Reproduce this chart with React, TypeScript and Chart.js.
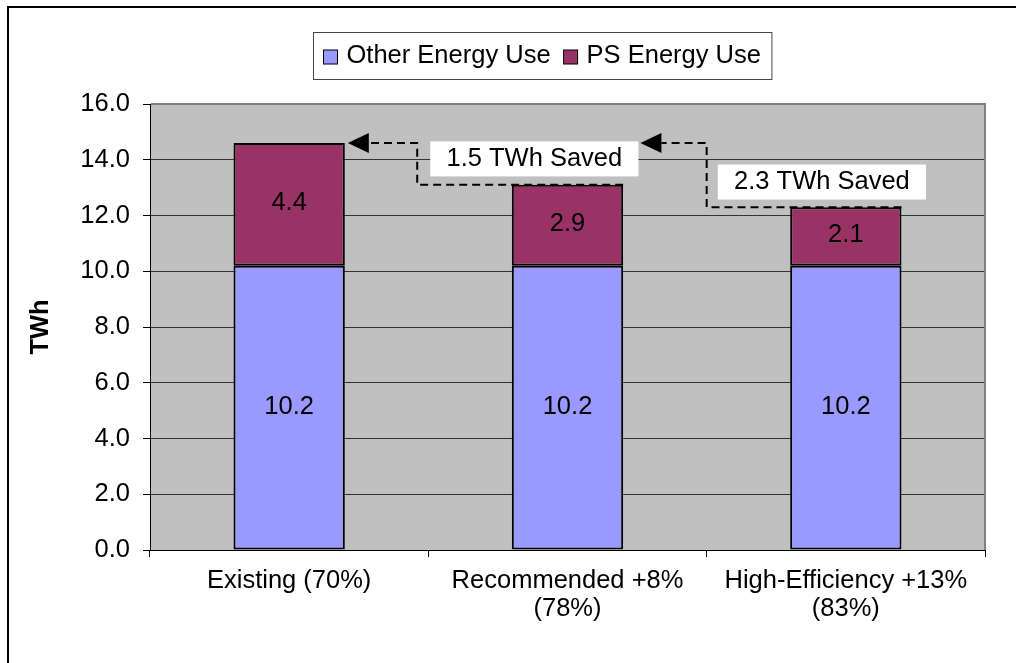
import { useEffect, useRef } from 'react';
import { Chart, registerables } from 'chart.js';

Chart.register(...registerables);

// ---- chart data ----
const categories: string[][] = [
  ['Existing (70%)'],
  ['Recommended +8%', '(78%)'],
  ['High-Efficiency +13%', '(83%)'],
];
const seriesNames = ['Other Energy Use', 'PS Energy Use'];
const otherEnergyUse = [10.2, 10.2, 10.2];
const psEnergyUse = [4.4, 2.9, 2.1];
const yAxisMin = 0;
const yAxisMax = 16;
const yAxisStep = 2;

const FONT = "'Liberation Sans', Arial, Helvetica, sans-serif";
const FONT_SIZE = 25.5;
const OTHER_COLOR = '#9999FF';
const PS_COLOR = '#993366';

Chart.defaults.font.family = FONT;

const totals = otherEnergyUse.map((v, i) => v + psEnergyUse[i]);

// Grey plot background with a grey frame on the top and right edges
const plotFrame = {
  id: 'plotFrame',
  beforeDraw(chart: any) {
    const { ctx, chartArea: a } = chart;
    ctx.save();
    ctx.fillStyle = '#C0C0C0';
    ctx.fillRect(a.left, a.top, a.right - a.left, a.bottom - a.top);
    ctx.restore();
  },
  beforeDatasetsDraw(chart: any) {
    const { ctx, chartArea: a } = chart;
    ctx.save();
    ctx.strokeStyle = '#808080';
    ctx.lineWidth = 2;
    ctx.beginPath();
    ctx.moveTo(a.left + 1, a.top);
    ctx.lineTo(a.right, a.top);
    ctx.lineTo(a.right, a.bottom);
    ctx.stroke();
    ctx.restore();
  },
};

// Value written in the middle of each stacked segment
const segmentLabels = {
  id: 'segmentLabels',
  afterDatasetsDraw(chart: any) {
    const { ctx } = chart;
    ctx.save();
    ctx.font = `${FONT_SIZE}px ${FONT}`;
    ctx.fillStyle = '#000';
    ctx.textAlign = 'center';
    ctx.textBaseline = 'middle';
    chart.data.datasets.forEach((ds: any, i: number) => {
      chart.getDatasetMeta(i).data.forEach((el: any, j: number) => {
        const { x, y, base } = el.getProps(['x', 'y', 'base'], true);
        ctx.fillText(Number(ds.data[j]).toFixed(1), x, (y + base) / 2 - 1);
      });
    });
    ctx.restore();
  },
};

// Dashed step arrows and "TWh Saved" call-outs
const savingsArrows = {
  id: 'savingsArrows',
  afterDatasetsDraw(chart: any) {
    const { ctx } = chart;
    const xs = chart.scales.x;
    const ys = chart.scales.y;
    const bars = chart.getDatasetMeta(1).data;
    const rightEdge = (k: number) => bars[k].x + bars[k].width / 2;
    const topLevel = ys.getPixelForValue(totals[0]);

    const arrow = (fromX: number, fromY: number, cornerX: number, tipX: number) => {
      const head = 21;
      ctx.save();
      ctx.strokeStyle = '#000';
      ctx.lineWidth = 2;
      ctx.setLineDash([8, 5]);
      ctx.beginPath();
      ctx.moveTo(fromX, fromY);
      ctx.lineTo(cornerX, fromY);
      ctx.lineTo(cornerX, topLevel);
      ctx.lineTo(tipX + head, topLevel);
      ctx.stroke();
      ctx.setLineDash([]);
      ctx.fillStyle = '#000';
      ctx.beginPath();
      ctx.moveTo(tipX, topLevel);
      ctx.lineTo(tipX + head, topLevel - 10);
      ctx.lineTo(tipX + head, topLevel + 10);
      ctx.closePath();
      ctx.fill();
      ctx.restore();
    };

    const box = (x0: number, x1: number, cy: number, text: string) => {
      const h = 35;
      ctx.save();
      ctx.fillStyle = '#fff';
      ctx.fillRect(x0, cy - h / 2, x1 - x0, h);
      ctx.font = `${FONT_SIZE}px ${FONT}`;
      ctx.fillStyle = '#000';
      ctx.textAlign = 'center';
      ctx.textBaseline = 'middle';
      ctx.fillText(text, (x0 + x1) / 2, cy);
      ctx.restore();
    };

    const tip2 = xs.getPixelForValue(1.262);
    arrow(rightEdge(1), ys.getPixelForValue(totals[1]), xs.getPixelForValue(0.46), rightEdge(0) + 3);
    arrow(rightEdge(2), ys.getPixelForValue(totals[2]), xs.getPixelForValue(1.5), tip2);

    const saved1 = (psEnergyUse[0] - psEnergyUse[1]).toFixed(1);
    const saved2 = (psEnergyUse[0] - psEnergyUse[2]).toFixed(1);
    box(xs.getPixelForValue(0.507), tip2 - 2, ys.getPixelForValue(14.03), `${saved1} TWh Saved`);
    box(xs.getPixelForValue(1.54), xs.getPixelForValue(2.288), ys.getPixelForValue(13.2), `${saved2} TWh Saved`);
  },
};

// Boxed legend above the plot
const legendBox = {
  id: 'legendBox',
  afterDraw(chart: any) {
    const { ctx } = chart;
    ctx.save();
    ctx.font = `${FONT_SIZE}px ${FONT}`;
    const items = chart.data.datasets.map((ds: any) => ({
      label: ds.label as string,
      color: ds.backgroundColor as string,
      w: ctx.measureText(ds.label).width,
    }));
    const padL = 10, padR = 11, sq = 14, gapSq = 9, gapItem = 13, h = 47;
    const total =
      padL + padR + items.reduce((s: number, it: any) => s + sq + gapSq + it.w, 0) + gapItem * (items.length - 1);
    const cx = chart.chartArea.left + 392;
    const left = Math.round(cx - total / 2) + 0.5;
    const top = chart.chartArea.top - 72 + 0.5;
    ctx.fillStyle = '#fff';
    ctx.fillRect(left, top, total, h);
    ctx.strokeStyle = '#444';
    ctx.lineWidth = 1;
    ctx.strokeRect(left, top, total, h);
    const cy = top + h / 2;
    let x = left + padL;
    ctx.textBaseline = 'middle';
    ctx.textAlign = 'left';
    items.forEach((it: any) => {
      ctx.fillStyle = it.color;
      ctx.fillRect(x, cy - sq / 2 + 1, sq, sq);
      ctx.strokeStyle = '#000';
      ctx.strokeRect(x, cy - sq / 2 + 1, sq, sq);
      x += sq + gapSq;
      ctx.fillStyle = '#000';
      ctx.fillText(it.label, x, cy);
      x += it.w + gapItem;
    });
    ctx.restore();
  },
};

export default function App() {
  const ref = useRef<HTMLCanvasElement>(null);

  useEffect(() => {
    document.documentElement.style.overflow = 'hidden';
    document.body.style.overflow = 'hidden';
    const chart = new Chart(ref.current as HTMLCanvasElement, {
      type: 'bar',
      data: {
        labels: categories as any,
        datasets: [
          {
            label: seriesNames[0],
            data: otherEnergyUse,
            backgroundColor: OTHER_COLOR,
            borderColor: '#000',
            borderWidth: 2,
            borderSkipped: false,
            barPercentage: 0.4,
            categoryPercentage: 1,
          },
          {
            label: seriesNames[1],
            data: psEnergyUse,
            backgroundColor: PS_COLOR,
            borderColor: '#000',
            borderWidth: 2,
            borderSkipped: false,
            barPercentage: 0.4,
            categoryPercentage: 1,
          },
        ],
      },
      options: {
        responsive: false,
        animation: false,
        devicePixelRatio: 1,
        layout: { padding: { top: 96, right: 11, bottom: 0, left: 0 } },
        plugins: { legend: { display: false }, tooltip: { enabled: false } },
        scales: {
          x: {
            stacked: true,
            grid: { offset: true, drawOnChartArea: false, drawTicks: true, tickLength: 7, color: '#000' },
            border: { color: '#000', width: 1 },
            ticks: {
              color: '#000',
              font: { size: FONT_SIZE, lineHeight: 1.1 },
              padding: 10,
              maxRotation: 0,
              autoSkip: false,
            },
            afterFit: (s: any) => {
              s.height = 113;
            },
          },
          y: {
            stacked: true,
            min: yAxisMin,
            max: yAxisMax,
            ticks: {
              stepSize: yAxisStep,
              callback: (v: any) => Number(v).toFixed(1),
              color: '#000',
              font: { size: FONT_SIZE },
              padding: 13,
            },
            grid: { color: '#333', tickColor: '#000', tickLength: 7 },
            border: { color: '#000', width: 1 },
            title: {
              display: true,
              text: 'TWh',
              color: '#000',
              font: { size: FONT_SIZE, weight: 'bold' },
              padding: { top: 17, bottom: 0 },
            },
            afterFit: (s: any) => {
              s.width = 141;
            },
          },
        },
      } as any,
      plugins: [plotFrame, segmentLabels, savingsArrows, legendBox],
    });
    return () => chart.destroy();
  }, []);

  // Outer chart frame: only its top and left edges fall inside the view
  return (
    <div
      style={{
        position: 'fixed',
        left: 7,
        top: 6,
        right: 0,
        bottom: 0,
        borderTop: '2px solid #000',
        borderLeft: '2px solid #000',
        background: '#fff',
        overflow: 'hidden',
      }}
    >
      <canvas ref={ref} width={987} height={655} style={{ display: 'block' }} />
    </div>
  );
}
